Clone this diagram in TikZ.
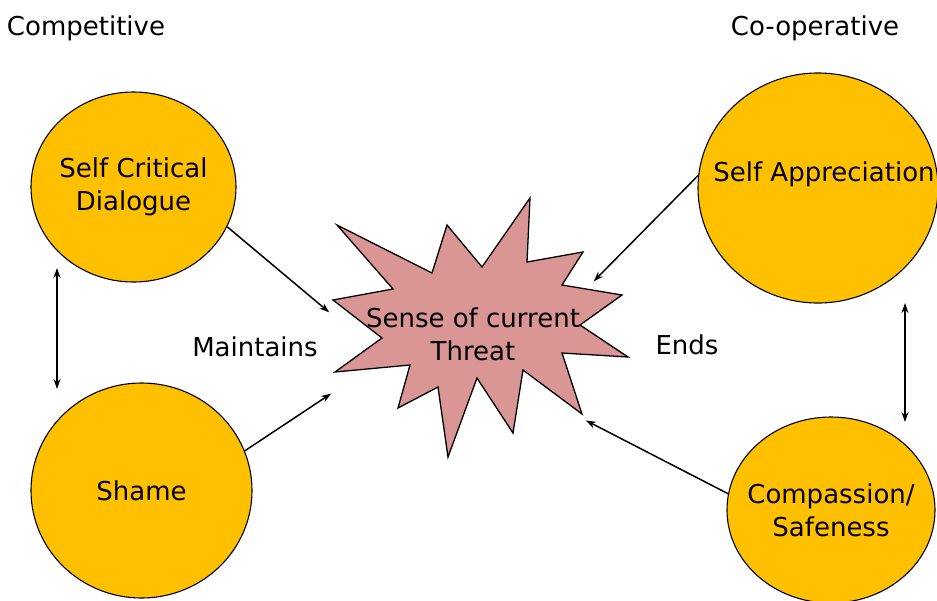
\documentclass[tikz,border=0pt]{standalone}
\usepackage{fontspec}
\setmainfont{DejaVu Sans}
\usepackage{tikz}
\usetikzlibrary{shapes.geometric}
\usetikzlibrary{arrows.meta}

\definecolor{bubble}{HTML}{FFC000}
\definecolor{threatpink}{HTML}{D99694}

\begin{document}
\begin{tikzpicture}[x=1pt,y=-1pt,>={Stealth[length=10pt,width=7pt]},shorten >=1pt,
  font=\fontsize{26}{33}\selectfont,
  main node/.style={ellipse,draw,line width=1.1pt,fill=bubble,inner sep=0pt},
  link/.style={->,line width=1.5pt},
  both/.style={<->,line width=1.5pt,shorten <=1pt}]
  \useasboundingbox (0,0) rectangle (937,600);

  % side headings
  \node (comp) at (86,28) {Competitive};
  \node (coop) at (815,28) {Co-operative};

  % threat star
  \draw[fill=threatpink,line width=1.3pt,line join=miter]
    (530,198) -- (527,262) -- (583,252) -- (562,285) -- (622,295) -- (580,325)
    -- (628,357) -- (562,353) -- (582,414) -- (523,370) -- (513,433) -- (477,378)
    -- (448,457) -- (438,387) -- (398,408) -- (410,365) -- (335,372) -- (382,338)
    -- (333,300) -- (393,289) -- (337,225) -- (432,273) -- (447,225) -- (482,267)
    -- cycle;
  \node[align=center] (threat) at (473,334) {Sense of current\\Threat};

  % bubbles
  \node[main node,minimum width=205,minimum height=190,
    label={[align=center]center:Self Critical\\Dialogue}] (scd) at (133.5,187) {};
  \node[main node,minimum width=221,minimum height=215,
    label={center:Shame}] (shame) at (141.5,490.5) {};
  \node[main node,minimum width=240,minimum height=230,
    label={[align=center,xshift=6pt]center:Self Appreciation\\\mbox{}}] (sa) at (818,188) {};
  \node[main node,minimum width=208,minimum height=186,
    label={[align=center]center:Compassion/\\Safeness}] (cs) at (831,510) {};

  \node (maint) at (255,347) {Maintains};
  \node (ends) at (687,345) {Ends};

  % arrow ends
  \coordinate (t1) at (330,313);
  \coordinate (t2) at (332,393);
  \coordinate (t3) at (593,282);
  \coordinate (t4) at (585,420);
  \coordinate (l1) at (57,267);
  \coordinate (l2) at (57,390);
  \coordinate (r1) at (905,302);
  \coordinate (r2) at (905,423);

  \path[link] (scd.-23) edge (t1)
    (shame.21) edge (t2)
    (sa.174) edge (t3)
    (cs.171) edge (t4);
  \path[both] (l1) edge (l2)
    (r1) edge (r2);
\end{tikzpicture}
\end{document}
